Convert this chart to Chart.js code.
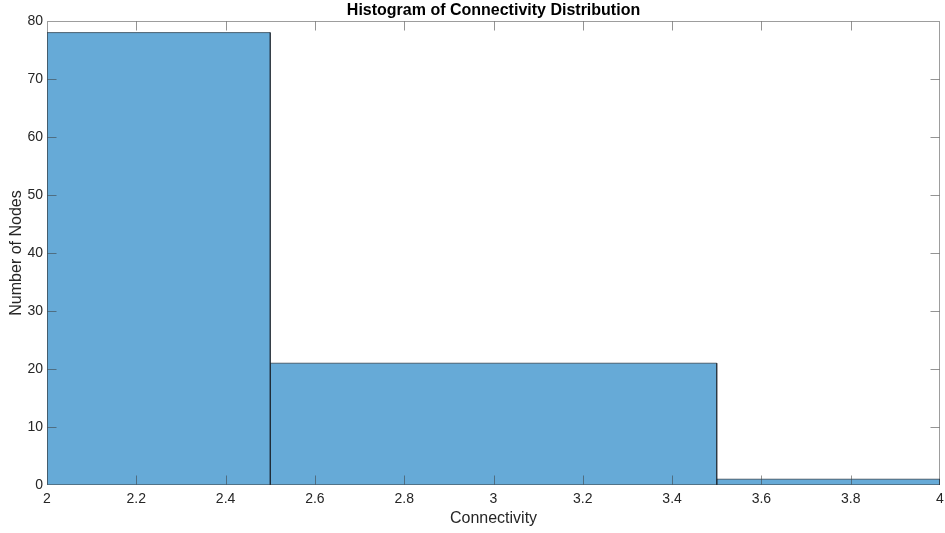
<!DOCTYPE html>
<html>
<head>
<meta charset="utf-8">
<script src="https://cdn.jsdelivr.net/npm/chart.js@4.4.1/dist/chart.umd.min.js"></script>
<style>
  html, body { margin: 0; padding: 0; background: #fff; }
  #wrap { width: 945px; height: 533px; }
</style>
</head>
<body>
<div id="wrap"><canvas id="c" width="945" height="533"></canvas></div>
<script>
// Histogram bins: edges and counts per bin
const binEdges = [2, 2.5, 3.5, 4];
const binCounts = [78, 21, 1];
const xTicks = [2, 2.2, 2.4, 2.6, 2.8, 3, 3.2, 3.4, 3.6, 3.8, 4];
const yTicks = [0, 10, 20, 30, 40, 50, 60, 70, 80];

const titleText = 'Histogram of Connectivity Distribution';
const xLabel = 'Connectivity';
const yLabel = 'Number of Nodes';

const FONT = "'Liberation Sans', Arial, Helvetica, sans-serif";
const faceColor = 'rgb(102,170,215)';
const edgeColor = 'rgba(20,30,40,0.62)';

// One closed outline per bin, filled down to zero
const datasets = binCounts.map((n, i) => ({
  type: 'line',
  data: [
    { x: binEdges[i], y: 0 },
    { x: binEdges[i], y: n },
    { x: binEdges[i + 1], y: n },
    { x: binEdges[i + 1], y: 0 }
  ],
  borderColor: edgeColor,
  borderWidth: 1,
  backgroundColor: faceColor,
  fill: 'origin',
  pointRadius: 0,
  tension: 0
}));

// Axes box, inward ticks on all four sides, and the title
const boxPlugin = {
  id: 'box',
  afterDatasetsDraw(chart) {
    const { ctx, chartArea: a, scales } = chart;
    const L = a.left + 0.5, R = a.right - 0.5, T = a.top + 0.5, B = a.bottom - 0.5;
    ctx.save();
    ctx.lineWidth = 1;
    ctx.strokeStyle = 'rgba(60,60,60,0.55)';
    const tl = 9;
    ctx.beginPath();
    xTicks.forEach(v => {
      const x = Math.round(scales.x.getPixelForValue(v)) + 0.5;
      if (x <= L + 1 || x >= R - 1) return;
      ctx.moveTo(x, B); ctx.lineTo(x, B - tl);
      ctx.moveTo(x, T); ctx.lineTo(x, T + tl);
    });
    yTicks.forEach(v => {
      const y = Math.round(scales.y.getPixelForValue(v)) + 0.5;
      if (y <= T + 1 || y >= B - 1) return;
      ctx.moveTo(L, y); ctx.lineTo(L + tl, y);
      ctx.moveTo(R, y); ctx.lineTo(R - tl, y);
    });
    ctx.stroke();
    ctx.strokeStyle = 'rgba(60,60,60,0.5)';
    ctx.strokeRect(L, T, R - L, B - T);
    ctx.fillStyle = '#000';
    ctx.font = 'bold 16px ' + FONT;
    ctx.textAlign = 'center';
    ctx.textBaseline = 'middle';
    ctx.fillText(titleText, (a.left + a.right) / 2, 11);
    ctx.restore();
  }
};

new Chart(document.getElementById('c'), {
  type: 'line',
  data: { datasets },
  options: {
    responsive: false,
    animation: false,
    layout: { padding: { top: 21, right: 0, bottom: 0, left: 0 } },
    plugins: { legend: { display: false }, tooltip: { enabled: false }, title: { display: false } },
    scales: {
      x: {
        type: 'linear',
        min: 2, max: 4,
        afterBuildTicks(s) { s.ticks = xTicks.map(v => ({ value: v })); },
        afterFit(s) { s.height = 48; s.paddingRight = 5; },
        grid: { display: false, drawTicks: false },
        border: { display: false },
        ticks: {
          color: '#262626',
          font: { family: FONT, size: 14 },
          padding: 6,
          maxRotation: 0,
          autoSkip: false,
          callback: v => String(v)
        },
        title: {
          display: true, text: xLabel, color: '#262626',
          font: { family: FONT, size: 16 },
          padding: { top: 0, bottom: 5 }
        }
      },
      y: {
        type: 'linear',
        min: 0, max: 80,
        afterBuildTicks(s) { s.ticks = yTicks.map(v => ({ value: v })); },
        afterFit(s) { s.width = 47; },
        grid: { display: false, drawTicks: false },
        border: { display: false },
        ticks: {
          color: '#262626',
          font: { family: FONT, size: 14 },
          padding: 4,
          autoSkip: false
        },
        title: {
          display: true, text: yLabel, color: '#262626',
          font: { family: FONT, size: 16 },
          padding: { top: 7, bottom: 0 }
        }
      }
    }
  },
  plugins: [boxPlugin]
});
</script>
</body>
</html>
